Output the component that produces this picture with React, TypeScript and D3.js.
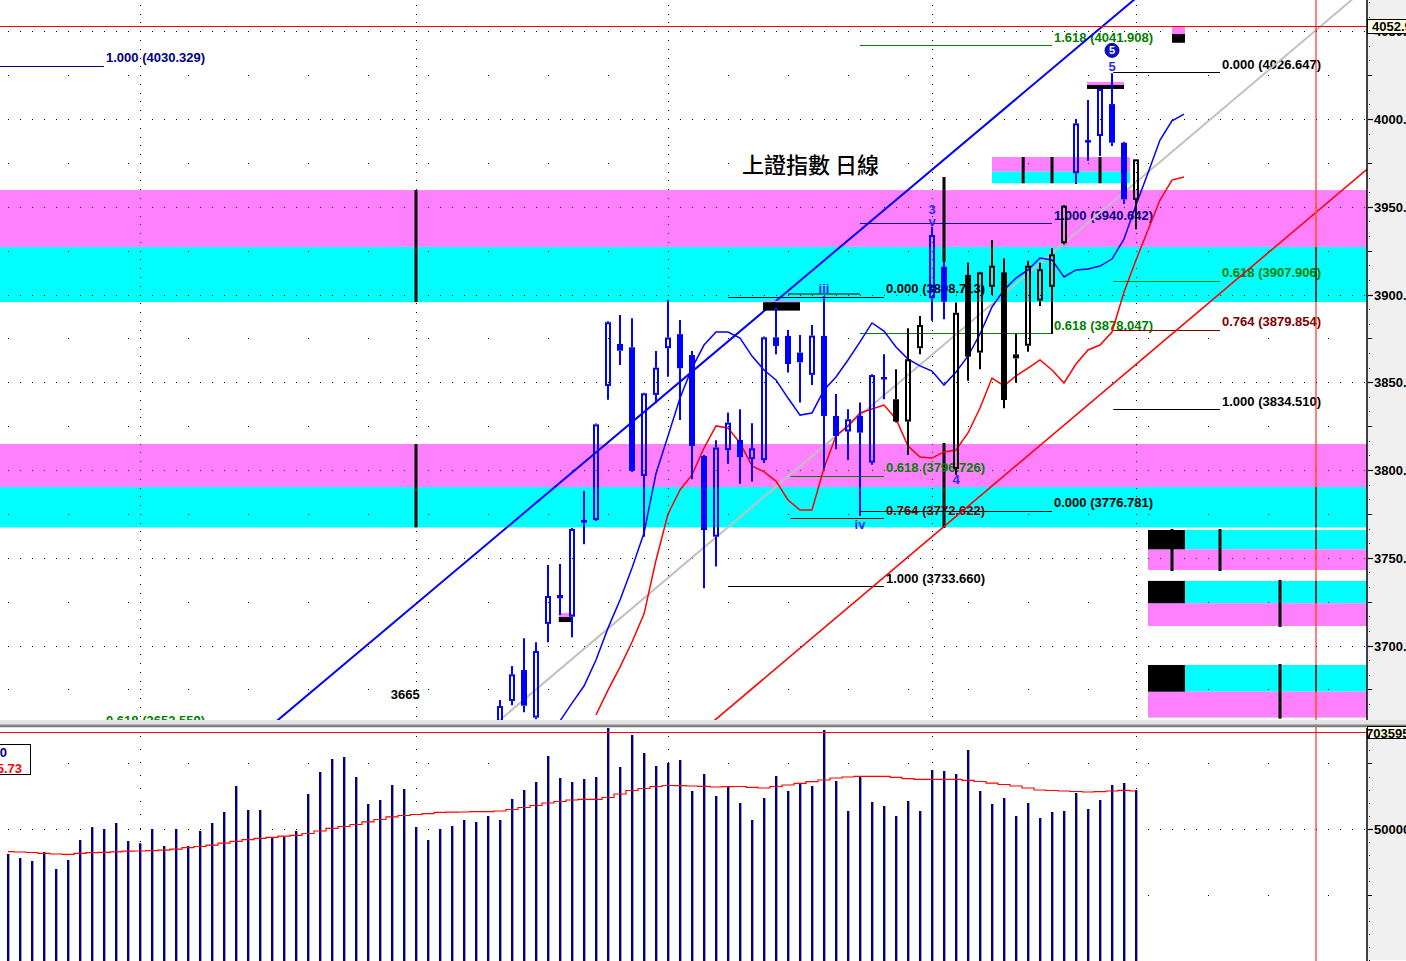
import React from "react";
import * as d3 from "d3";

// ---------------- DATA ----------------
const candleStart = 41;
const opens = [
  3645, 3668.4, 3686, 3658.9, 3712.3, 3728.8, 3716.4, 3771.5, 3771.5, 3847.9,
  3871.8, 3869.9, 3796.6, 3842.8, 3869.4, 3877.4, 3865.5, 3808, 3762, 3811.4,
  3817.1, 3806.2, 3805.6, 3875.6, 3876.4, 3866.9, 3854.2, 3876.4, 3830.8, 3821.9,
  3830.8, 3804.2, 3853, 3840.3, 3827.6, 3869.4, 3897.9, 3915.8, 3800.6, 3911.1,
  3866.9, 3904.4, 3912.6, 3865.9, 3870.8, 3896.5, 3904.4, 3929.2, 3969.1, 3988,
  3990.3, 4008.5, 3986.5, 3953.9,
];
const highs = [
  3669, 3688.3, 3704.1, 3701.8, 3745.9, 3746.4, 3767, 3788, 3826.5, 3884.8,
  3888.3, 3886.4, 3844, 3867.8, 3897, 3885.5, 3867.8, 3808.5, 3817, 3832.7,
  3834.6, 3826.6, 3876, 3893, 3879.8, 3876.9, 3882.6, 3899.1, 3843.3, 3834.6,
  3838.4, 3854.5, 3866, 3857.4, 3880.8, 3887.8, 3938.6, 3918.5, 3895.4, 3918.3,
  3912.9, 3931, 3920.6, 3877.5, 3919.3, 3918.1, 3926.3, 3951, 4000, 4010.8,
  4017.3, 4026.0, 3987, 3977.2,
];
const lows = [
  3640, 3666, 3661.9, 3658, 3701.8, 3717.4, 3704.7, 3757.7, 3771, 3840,
  3859.8, 3799, 3762, 3838, 3853.2, 3828.5, 3794.7, 3732.6, 3745, 3803.5,
  3792.1, 3793.4, 3804, 3866, 3855.5, 3838.4, 3848.4, 3800.4, 3811.8, 3805.7,
  3773.8, 3803, 3840.3, 3827, 3808.6, 3866, 3885.1, 3885.9, 3797.2, 3850.9,
  3857.4, 3899.7, 3835.2, 3849.7, 3867.4, 3893.5, 3877.5, 3928.5, 3963, 3976.2,
  3978.9, 3984.6, 3951.6, 3937.2,
];
const closes = [
  3665.5, 3683.6, 3665.7, 3696.9, 3728.2, 3726.9, 3766.4, 3770.2, 3826, 3884.2,
  3868, 3799.5, 3843.7, 3858.3, 3875.5, 3858, 3813.7, 3765.8, 3812.8, 3827,
  3807.3, 3812.4, 3875.6, 3870.7, 3860.4, 3861.4, 3876.6, 3830.8, 3819.4, 3828.9,
  3821.3, 3854.1, 3852.6, 3827.6, 3863.1, 3882.6, 3933.9, 3895.9, 3889.6, 3864.6,
  3912.6, 3916.4, 3839.9, 3863.6, 3916.4, 3914.4, 3922.9, 3950.6, 3997.5, 3987,
  4017.1, 3986.5, 3954.2, 3977,
];
// B = blue highlighted wave bars, K = black bars
const candleColors = "BBBBBBBBBBBBBBBBBBBBBBBBBBBBBBBBBKKKBBKKKKKKKKKKBBBBBK";

const blueMAStart = 46;
const blueMA = [
  3657.0, 3667.2, 3676.9, 3691.7, 3709.9, 3725.9, 3744.2, 3764.1, 3798.0, 3819.4,
  3841.0, 3858.1, 3871.2, 3878.6, 3878.6, 3875.2, 3864.9, 3857.0, 3851.3, 3841.0,
  3831.3, 3832.5, 3845.6, 3853.0, 3862.7, 3873.0, 3883.8, 3879.2, 3870.1, 3863.2,
  3859.3, 3856.4, 3848.4, 3855.8, 3864.9, 3877.5, 3892.9, 3902.6, 3909.4, 3914.0,
  3920.8, 3919.7, 3910.0, 3914.0, 3914.5, 3916.2, 3920.2, 3931.6, 3951.0, 3969.2,
  3988.0, 3998.9, 4002.8,
];
const redMAStart = 49;
const redMA = [
  3660.4, 3674.6, 3687.7, 3702.0, 3717.9, 3748.6, 3774.9, 3788.6, 3797.2, 3812.5,
  3825.1, 3823.9, 3815.4, 3802.3, 3798.9, 3793.7, 3782.9, 3777.2, 3777.2, 3801.1,
  3819.4, 3825.1, 3832.5, 3834.8, 3837.0, 3829.1, 3813.7, 3807.4, 3806.8, 3810.3,
  3811.4, 3821.1, 3835.3, 3852.4, 3847.9, 3853.6, 3858.1, 3862.7, 3857.0, 3849.6,
  3860.4, 3868.4, 3871.2, 3878.6, 3901.4, 3919.7, 3936.8, 3953.8, 3965.2, 3967.0,
];

const volumes = [
  447500, 439000, 432800, 451700, 416000, 435000, 477000, 504000, 500000, 512600,
  474800, 470000, 500000, 464300, 500000, 464300, 495800, 512600, 535700, 590300,
  539900, 539900, 482600, 484000, 495800,
  573500, 619600, 646900, 651100, 609100, 552500, 560900, 592400, 584000, 504200,
  476900, 500000, 506300, 518900, 514700, 527300, 518900, 563000, 581900, 598700,
  653200, 607000, 598700, 604900, 609100, 712000, 630100, 697300, 659500, 632200,
  638500, 644800, 579800,
  615400, 569300, 588200, 554600, 518900, 565100, 611200, 579800, 595100, 590300,
  707800, 600800, 537800, 609100, 556700, 548300, 527300, 558800, 537800, 623800,
  621700, 615400, 665800, 579800, 552500, 565100, 527300, 554600, 523100, 535700,
  537800, 575600, 542000, 560900, 592400, 596600, 581900,
];
const volumeMA = [
  452400, 451700, 450700, 449000, 447500, 446900, 449000, 450300, 451100, 452100,
  453400, 453800, 454700, 455500, 457600, 460700, 463300, 466000, 470200, 474200,
  477500, 480500, 482400, 484900, 486800, 490600, 495800, 501500, 505200, 509400,
  515100, 519900, 525600, 528300, 530400, 532100, 535100, 535300, 535700, 536300,
  536300, 537800, 540900, 545100, 549300, 554600, 557700, 560900, 562300, 562300,
  566100, 573500, 580800, 585000, 589200, 591300, 590900, 590300, 589600, 588200,
  588800, 589200, 587500, 586100, 589200, 592400, 595900, 599300, 602900, 607000,
  609100, 610600, 610600, 610600, 608500, 605600, 604300, 604300, 604300, 604300,
  602200, 599700, 596100, 593400, 590300, 586100, 581900, 580800, 579800, 578700,
  577700, 578300, 579800, 581200, 579800,
];

// month separators (bar index)
const monthBreaks = [11, 34, 55, 77, 94];

// Fibonacci annotations
const fibRatio = ["1.000", "0.618", "1.618", "1.000", "0.618", "0.000", "0.000", "0.618", "0.764", "1.000", "0.000", "0.618", "0.764", "1.000"];
const fibPrice = [4030.329, 3652.559, 4041.908, 3940.642, 3878.047, 3776.781, 4026.647, 3907.906, 3879.854, 3834.51, 3898.713, 3796.726, 3772.622, 3733.66];
const fibFrom = [-0.7, -0.7, 71, 71, 71, 71, 92.1, 92.1, 92.1, 92.1, 60, 65.2, 65.2, 60];
const fibTo = [8, 8, 87, 87, 87, 87, 101, 101, 101, 101, 73, 73, 73, 73];
const fibColor = ["#000080", "#008000", "#008000", "#000080", "#008000", "#000000", "#000000", "#008000", "#800000", "#000000", "#000000", "#008000", "#800000", "#000000"];
const extraLine = { from: 65, to: 71, price: 3900.3 };

// trend lines: two anchor points each (bar index, price)
const trendLines = [
  { a: [39.33, 3754.4], b: [91.83, 4056.4], color: "#0000ff", w: 2 },
  { a: [41, 3657.6], b: [111.67, 4066.1], color: "#c0c0c0", w: 2 },
  { a: [76.67, 3760.1], b: [113.17, 3970.9], color: "#ff0000", w: 1.6 },
];

// support / resistance zones
const bigZones = [
  { from: -2, pinkTop: 3959.5, split: 3927.1, cyanBottom: 3895.7 },
  { from: -2, pinkTop: 3814.8, split: 3790.3, cyanBottom: 3767.3 },
];
const rightBoxes = [
  { cyanTop: 3765.8, split: 3754.8, pinkBottom: 3743.0, marks: [97, 101] },
  { cyanTop: 3736.8, split: 3724.1, pinkBottom: 3711.1, marks: [106] },
  { cyanTop: 3688.9, split: 3673.7, pinkBottom: 3658.9, marks: [106] },
];
const smallZone = { from: 82, to: 93.5, pinkTop: 3978.3, split: 3970, cyanBottom: 3963.4, marks: [84.6, 87, 91] };
const zoneLines = [
  { i: 34, top: 3959.5, bottom: 3895.7 },
  { i: 34, top: 3814.8, bottom: 3767.3 },
  { i: 78, top: 3967, bottom: 3918.5 },
  { i: 78, top: 3815.4, bottom: 3767 },
];
// gap markers (black bar with pink cap)
const markers = [
  { from: 45.9, to: 47, price: 3716.2, pinkH: 4, blackH: 5 },
  { from: 62.92, to: 66, price: 3895.6, pinkH: 1.5, blackH: 8.4 },
  { from: 89.92, to: 93, price: 4019.4, pinkH: 3, blackH: 4 },
  { from: 97, to: 98.08, price: 4048.4, pinkH: 7, blackH: 8.7 },
];

// wave labels
const waveLabels = [
  { i: 68, text: "iii", at: "high", dy: -3 },
  { i: 71, text: "iv", at: "low", dy: 13 },
  { i: 77, text: "v", at: "high", dy: -1 },
  { i: 77, text: "3", at: "high", dy: -13 },
  { i: 79, text: "4", at: "low", dy: 9 },
  { i: 92, text: "5", at: "high", dy: -2 },
];

const crossIndex = 109;
const crossPrice = 4052.9;
const crossVolume = 703595;

const priceTickLabels = [3700, 3750, 3800, 3850, 3900, 3950, 4000, 4050];

const FONT = "'Liberation Sans', Arial, Helvetica, sans-serif";
const PINK = "#ff80ff";
const CYAN = "#00ffff";

export default function App() {
  const W = 1406;
  const H = 961;
  const plotR = 1367;
  const mainB = 720;
  const volT = 728;

  const xs = d3.scaleLinear().domain([0, 94]).range([8, 1136]);
  const yp = d3.scaleLinear().domain([3700, 4000]).range([645.5, 119]);
  const yv = d3.scaleLinear().domain([500000, 703595]).range([829, 732]);

  const candles = opens.map((o, k) => ({
    i: candleStart + k,
    o,
    h: highs[k],
    l: lows[k],
    c: closes[k],
    col: candleColors[k] === "B" ? "#0000ff" : "#000000",
  }));

  const blueMAPath = d3
    .line<number>()
    .x((_, k) => xs(blueMAStart + k))
    .y((d) => yp(d))(blueMA);
  const redMAPath = d3
    .line<number>()
    .x((_, k) => xs(redMAStart + k))
    .y((d) => yp(d))(redMA);
  const volMAPath = d3
    .line<number>()
    .x((_, k) => xs(k))
    .y((d) => yv(d))
    .curve(d3.curveStep)(volumeMA);

  // grid dots
  const gridDots: { x: number; y: number }[] = [];
  const lastGridIdx = Math.floor(xs.invert(plotR - 2));
  d3.range(3675, 4051, 25).forEach((p) => {
    const dense = p % 50 === 0;
    for (let i = 0; i <= lastGridIdx; i++) {
      if (dense || i % 5 === 0) gridDots.push({ x: xs(i), y: yp(p) });
    }
  });
  monthBreaks.forEach((m) => {
    d3.range(3655, 4066, 5).forEach((p) => gridDots.push({ x: xs(m), y: yp(p) }));
  });
  const volStep = 137700;
  [500000 - volStep, 500000, 500000 + volStep].forEach((v) => {
    const dense = v === 500000;
    for (let i = 0; i <= lastGridIdx; i++) {
      if (dense || i % 5 === 0) gridDots.push({ x: xs(i), y: yv(v) });
    }
  });
  monthBreaks.forEach((m) => {
    d3.range(200000, 720000, volStep / 5).forEach((v) => {
      const yy = yv(v);
      if (yy > volT + 3) gridDots.push({ x: xs(m), y: yy });
    });
  });

  // trend line extension
  const extend = (t: any) => {
    const x1 = xs(t.a[0]), y1 = yp(t.a[1]);
    const x2 = xs(t.b[0]), y2 = yp(t.b[1]);
    const s = (y2 - y1) / (x2 - x1);
    const L = -300, R = 1700;
    return { x1: L, y1: y1 + (L - x1) * s, x2: R, y2: y1 + (R - x1) * s };
  };

  // axis ticks
  const priceMinor = d3.range(3650, 4070, 25 / 3);
  const priceMid = d3.range(3675, 4070, 50);
  const volMinor = d3.range(500000 - 2 * volStep, 500000 + 2 * volStep, volStep / 5);
  const volMid = [500000 - volStep, 500000 + volStep];

  const cx = xs(crossIndex);
  const crossOverlays: { y1: number; y2: number; c: string }[] = [];
  bigZones.forEach((z) => {
    crossOverlays.push({ y1: yp(z.pinkTop), y2: yp(z.split), c: "#ff8000" });
    crossOverlays.push({ y1: yp(z.split), y2: yp(z.cyanBottom), c: "#000000" });
  });
  rightBoxes.forEach((b) => {
    crossOverlays.push({ y1: yp(b.cyanTop), y2: yp(b.split), c: "#000000" });
    crossOverlays.push({ y1: yp(b.split), y2: yp(b.pinkBottom), c: "#ff8000" });
  });

  const textStyle: any = { fontFamily: FONT, fontWeight: "bold", fontSize: 13 };

  return (
    <svg
      width={W}
      height={H}
      viewBox={`0 0 ${W} ${H}`}
      style={{ position: "absolute", left: 0, top: 0, background: "#ffffff" }}
    >
      <defs>
        <clipPath id="mainClip">
          <rect x={0} y={0} width={plotR} height={mainB} />
        </clipPath>
        <clipPath id="volClip">
          <rect x={0} y={volT} width={plotR} height={H - volT} />
        </clipPath>
      </defs>
      <rect x={0} y={0} width={W} height={H} fill="#ffffff" />

      {/* ---------- MAIN PANEL ---------- */}
      <g clipPath="url(#mainClip)">
        {/* zones */}
        {bigZones.map((z, k) => (
          <g key={"bz" + k}>
            <rect x={xs(z.from)} y={yp(z.pinkTop)} width={plotR - xs(z.from)} height={yp(z.split) - yp(z.pinkTop)} fill={PINK} />
            <rect x={xs(z.from)} y={yp(z.split)} width={plotR - xs(z.from)} height={yp(z.cyanBottom) - yp(z.split)} fill={CYAN} />
          </g>
        ))}
        {rightBoxes.map((b, k) => (
          <g key={"rb" + k}>
            <rect x={xs(95)} y={yp(b.cyanTop)} width={plotR - xs(95)} height={yp(b.split) - yp(b.cyanTop)} fill={CYAN} />
            <rect x={xs(95)} y={yp(b.split)} width={plotR - xs(95)} height={yp(b.pinkBottom) - yp(b.split)} fill={PINK} />
            <rect x={xs(95)} y={yp(b.cyanTop)} width={xs(98.08) - xs(95)} height={yp(b.split) - yp(b.cyanTop)} fill="#000" />
            {b.marks.map((m) => (
              <line key={m} x1={xs(m)} x2={xs(m)} y1={yp(b.cyanTop) - 1} y2={yp(b.pinkBottom) + 1} stroke="#000" strokeWidth={3} />
            ))}
          </g>
        ))}
        <rect x={xs(smallZone.from)} y={yp(smallZone.pinkTop)} width={xs(smallZone.to) - xs(smallZone.from)} height={yp(smallZone.split) - yp(smallZone.pinkTop)} fill={PINK} />
        <rect x={xs(smallZone.from)} y={yp(smallZone.split)} width={xs(smallZone.to) - xs(smallZone.from)} height={yp(smallZone.cyanBottom) - yp(smallZone.split)} fill={CYAN} />
        {smallZone.marks.map((m) => (
          <line key={"sz" + m} x1={xs(m)} x2={xs(m)} y1={yp(smallZone.pinkTop)} y2={yp(smallZone.cyanBottom)} stroke="#000" strokeWidth={3} />
        ))}
        {zoneLines.map((z, k) => (
          <line key={"zl" + k} x1={xs(z.i)} x2={xs(z.i)} y1={yp(z.top)} y2={yp(z.bottom)} stroke="#000" strokeWidth={3} />
        ))}

        {/* grid dots */}
        {gridDots
          .filter((d) => d.y < mainB)
          .map((d, k) => (
            <rect key={"gd" + k} x={Math.round(d.x)} y={Math.round(d.y)} width={1} height={1} fill="#000" />
          ))}

        {/* title */}
        <text x={742} y={173} style={{ fontFamily: "'Noto Sans CJK TC', 'Noto Sans CJK SC', sans-serif", fontSize: 22, fontWeight: 500 }} fill="#000">
          上證指數 日線
        </text>

        {/* fib lines and labels */}
        <line x1={xs(extraLine.from)} x2={xs(extraLine.to)} y1={yp(extraLine.price)} y2={yp(extraLine.price)} stroke="#000" strokeWidth={1} />
        {fibPrice.map((p, k) => (
          <g key={"fib" + k}>
            <line x1={xs(fibFrom[k])} x2={xs(fibTo[k])} y1={Math.round(yp(p)) + 0.5} y2={Math.round(yp(p)) + 0.5} stroke={fibColor[k]} strokeWidth={1} />
            <text x={xs(fibTo[k]) + 2} y={yp(p) - 3.5} style={textStyle} fill={fibColor[k]}>
              {`${fibRatio[k]} (${p.toFixed(3)})`}
            </text>
          </g>
        ))}
        <text x={xs(33.1)} y={699} textAnchor="middle" style={textStyle} fill="#000">3665</text>

        {/* trend lines */}
        {trendLines.map((t, k) => {
          const e = extend(t);
          return <line key={"tl" + k} x1={e.x1} y1={e.y1} x2={e.x2} y2={e.y2} stroke={t.color} strokeWidth={t.w} />;
        })}

        {/* moving averages */}
        <path d={redMAPath || ""} fill="none" stroke="#ff0000" strokeWidth={1.5} />
        <path d={blueMAPath || ""} fill="none" stroke="#0000ff" strokeWidth={1.5} />

        {/* markers */}
        {markers.map((m, k) => (
          <g key={"mk" + k}>
            <rect x={xs(m.from)} y={yp(m.price) - m.pinkH} width={xs(m.to) - xs(m.from)} height={m.pinkH} fill={PINK} />
            <rect x={xs(m.from)} y={yp(m.price)} width={xs(m.to) - xs(m.from)} height={m.blackH} fill="#000" />
          </g>
        ))}

        {/* candles */}
        {candles.map((d) => {
          const x = Math.round(xs(d.i));
          const top = yp(Math.max(d.o, d.c));
          const bot = yp(Math.min(d.o, d.c));
          const up = d.c > d.o;
          return (
            <g key={"c" + d.i}>
              <line x1={x} x2={x} y1={yp(d.h)} y2={top} stroke={d.col} strokeWidth={2} />
              <line x1={x} x2={x} y1={bot} y2={yp(d.l)} stroke={d.col} strokeWidth={2} />
              {up ? (
                <rect x={x - 2} y={top + 1} width={4} height={Math.max(bot - top - 2, 1)} fill="none" stroke={d.col} strokeWidth={2} />
              ) : (
                <rect x={x - 3} y={top} width={6} height={Math.max(bot - top, 2.5)} fill={d.col} />
              )}
            </g>
          );
        })}

        {/* wave labels */}
        {waveLabels.map((w, k) => {
          const d = candles[w.i - candleStart];
          const base = w.at === "high" ? yp(d.h) : yp(d.l);
          return (
            <text key={"wl" + k} x={xs(w.i)} y={base + w.dy} textAnchor="middle" style={{ ...textStyle, fontSize: 13 }} fill="#2a2aff">
              {w.text}
            </text>
          );
        })}
        <circle cx={xs(92)} cy={yp(highs[92 - candleStart]) - 23} r={7} fill="#1010d0" stroke="#000080" strokeWidth={1} />
        <text x={xs(92)} y={yp(highs[92 - candleStart]) - 19} textAnchor="middle" style={{ ...textStyle, fontSize: 11 }} fill="#ffffff">5</text>

        {/* crosshair */}
        <line x1={0} x2={plotR} y1={Math.round(yp(crossPrice)) + 0.5} y2={Math.round(yp(crossPrice)) + 0.5} stroke="#ff0000" strokeWidth={1} />
      </g>

      {/* ---------- VOLUME PANEL ---------- */}
      <g clipPath="url(#volClip)">
        {gridDots
          .filter((d) => d.y > volT)
          .map((d, k) => (
            <rect key={"vd" + k} x={Math.round(d.x)} y={Math.round(d.y)} width={1} height={1} fill="#000" />
          ))}
        {volumes.map((v, k) => (
          <rect key={"v" + k} x={Math.round(xs(k)) - 1} y={yv(v)} width={2.4} height={H - yv(v)} fill="#000080" />
        ))}
        <path d={volMAPath || ""} fill="none" stroke="#ff0000" strokeWidth={1.2} />
        <line x1={0} x2={plotR} y1={Math.round(yv(crossVolume)) + 0.5} y2={Math.round(yv(crossVolume)) + 0.5} stroke="#ff0000" strokeWidth={1.2} />
        <rect x={-2} y={744.5} width={32.5} height={30} fill="#ffffff" stroke="#000" strokeWidth={1} />
        <text x={7} y={757} textAnchor="end" style={textStyle} fill="#000080">581900</text>
        <text x={22} y={773} textAnchor="end" style={textStyle} fill="#ff0000">585665.73</text>
      </g>

      {/* vertical crosshair */}
      <line x1={cx} x2={cx} y1={0} y2={H} stroke="#ff0000" strokeWidth={1} />
      {crossOverlays.map((o, k) => (
        <line key={"co" + k} x1={cx} x2={cx} y1={o.y1} y2={o.y2} stroke={o.c} strokeWidth={1} />
      ))}

      {/* panel separator */}
      <rect x={0} y={mainB} width={W} height={4.5} fill="#e4e4e4" />
      <rect x={0} y={mainB + 4.5} width={W} height={2.8} fill="#808080" />

      {/* ---------- AXES ---------- */}
      <rect x={plotR + 0.5} y={0} width={W - plotR} height={mainB} fill="#f0f0f0" />
      <rect x={plotR + 0.5} y={volT - 0.7} width={W - plotR} height={H - volT} fill="#f0f0f0" />
      <line x1={plotR} x2={plotR} y1={0} y2={mainB} stroke="#000" strokeWidth={1.5} />
      <line x1={plotR} x2={plotR} y1={volT} y2={H} stroke="#000" strokeWidth={1.5} />

      {priceMinor
        .filter((p) => yp(p) > 2 && yp(p) < mainB - 2)
        .map((p, k) => (
          <rect key={"pm" + k} x={plotR + 2} y={Math.round(yp(p))} width={1} height={1} fill="#000" />
        ))}
      {priceMid
        .filter((p) => yp(p) > 2 && yp(p) < mainB - 2)
        .map((p, k) => (
          <line key={"pmd" + k} x1={plotR + 1} x2={plotR + 5} y1={Math.round(yp(p)) + 0.5} y2={Math.round(yp(p)) + 0.5} stroke="#000" strokeWidth={1} />
        ))}
      {priceTickLabels.map((p) => (
        <g key={"pl" + p}>
          <line x1={plotR + 1} x2={plotR + 6} y1={Math.round(yp(p)) + 0.5} y2={Math.round(yp(p)) + 0.5} stroke="#000" strokeWidth={1.2} />
          <text x={plotR + 7} y={yp(p) + 5} style={textStyle} fill="#000">{p.toFixed(2)}</text>
        </g>
      ))}

      {volMinor
        .filter((v) => yv(v) > volT + 4 && yv(v) < H)
        .map((v, k) => (
          <rect key={"vm" + k} x={plotR + 2} y={Math.round(yv(v))} width={1} height={1} fill="#000" />
        ))}
      {volMid.map((v) => (
        <line key={"vmd" + v} x1={plotR + 1} x2={plotR + 5} y1={Math.round(yv(v)) + 0.5} y2={Math.round(yv(v)) + 0.5} stroke="#000" strokeWidth={1} />
      ))}
      <line x1={plotR + 1} x2={plotR + 6} y1={Math.round(yv(500000)) + 0.5} y2={Math.round(yv(500000)) + 0.5} stroke="#000" strokeWidth={1.2} />
      <text x={plotR + 7} y={yv(500000) + 5} style={textStyle} fill="#000">500000</text>

      {/* crosshair value boxes */}
      <rect x={plotR + 0.5} y={19.5} width={W - plotR} height={14} fill="#ffffe1" stroke="#000" strokeWidth={1} />
      <text x={plotR + 5} y={31} style={textStyle} fill="#000">{crossPrice.toFixed(2)}</text>
      <rect x={plotR + 0.5} y={volT - 1.5} width={W - plotR} height={12} fill="#ffffe1" stroke="#000" strokeWidth={1} />
      <text x={plotR - 1} y={738} style={textStyle} fill="#000">{String(crossVolume)}</text>
    </svg>
  );
}
